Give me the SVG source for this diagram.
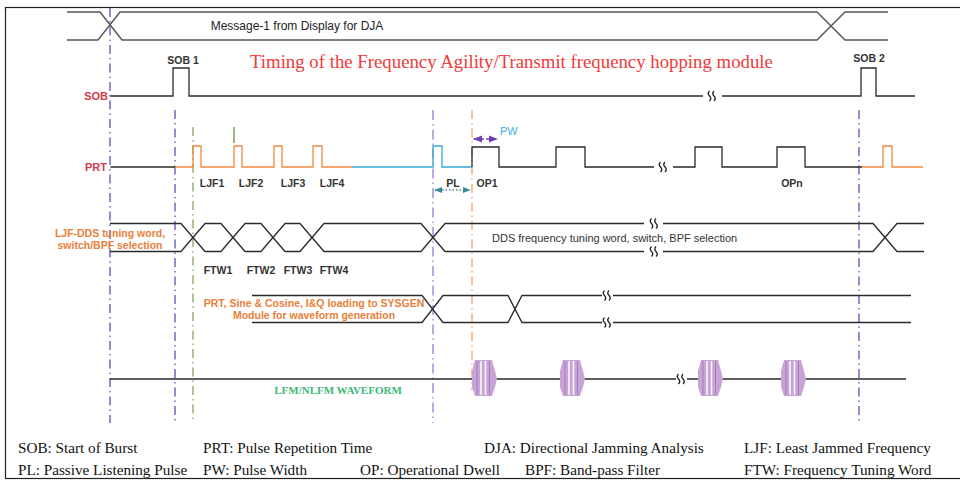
<svg xmlns="http://www.w3.org/2000/svg" width="960" height="480" viewBox="0 0 960 480">
<style>
.sig{fill:none;stroke:#2a2a2a;stroke-width:1.3}
.msg{fill:none;stroke:#555;stroke-width:1.4}
.or{fill:none;stroke:#f08a3c;stroke-width:1.3}
.bl{fill:none;stroke:#3aa6d8;stroke-width:1.3}
.vp{fill:none;stroke:#5a3cae;stroke-width:1.2;stroke-dasharray:9 4 1.5 4}
.vlp{fill:none;stroke:#a590dc;stroke-width:1.5;stroke-dasharray:10 4 1.5 4}
.vg{fill:none;stroke:#7c9c50;stroke-width:1.2;stroke-dasharray:9 4 1.5 4}
.vo{fill:none;stroke:#f29a5c;stroke-width:1.2;stroke-dasharray:9 4 1.5 4}
.lab{font-family:"Liberation Sans",Arial,sans-serif;font-size:10.5px;font-weight:bold;fill:#333;text-anchor:middle}
.sig-name{font-family:"Liberation Sans",Arial,sans-serif;font-size:11px;font-weight:bold;fill:#d23a4a;text-anchor:end}
.orl{font-family:"Liberation Sans",Arial,sans-serif;font-size:10.5px;font-weight:bold;fill:#e8803a;text-anchor:middle}
.leg{font-family:"Liberation Serif","Times New Roman",serif;font-size:15.2px;fill:#111}
.brk{fill:none;stroke:#222;stroke-width:1.3}
</style>
<defs>
<g id="brk"><path class="brk" d="M-2.5,-5 q-2.5,2.5 0,5 q2.5,2.5 0,5 M2,-5 q-2.5,2.5 0,5 q2.5,2.5 0,5"/></g>
<g id="blob">
<path d="M-9,-19 L8,-19 L11,-8 L13,0 L11,8 L8,17 L-9,17 L-12,8 L-12,-8 Z" fill="#c7a3d6"/>
<path d="M-7,-18V16 M5.5,-18V16" stroke="#a57cc0" stroke-width="1"/>
<path d="M-3,-18V16 M1.5,-18V16" stroke="#fff" stroke-width="1.6" opacity="0.9"/>
</g>
<marker id="ap" viewBox="0 0 10 10" refX="9" refY="5" markerWidth="7" markerHeight="7" orient="auto-start-reverse"><path d="M0,1 L10,5 L0,9 Z" fill="#7040b0"/></marker>
<marker id="at" viewBox="0 0 10 10" refX="9" refY="5" markerWidth="6" markerHeight="6" orient="auto-start-reverse"><path d="M0,1 L10,5 L0,9 Z" fill="#3a8a9a"/></marker>
</defs>

<rect x="5.5" y="7.5" width="960" height="471" fill="none" stroke="#222" stroke-width="1.2"/>

<g id="markers">
<line x1="110" y1="8" x2="110" y2="423" class="vp"/>
<line x1="175" y1="110" x2="175" y2="423" class="vp"/>
<line x1="193" y1="127" x2="193" y2="423" class="vg"/>
<line x1="234" y1="127" x2="234" y2="143" stroke="#5a8a30" stroke-width="1.2"/>
<line x1="433" y1="110" x2="433" y2="423" class="vlp"/>
<line x1="472" y1="110" x2="472" y2="390" class="vo"/>
<line x1="859" y1="110" x2="859" y2="423" class="vp"/>
</g>

<g id="message">
<path class="msg" d="M67,12 H100 L122,40 H817 L845,12 H888"/>
<path class="msg" d="M67,40 H98 L120,12 H817 L845,40 H888"/>
<text x="297" y="30" font-family="Liberation Sans, Arial, sans-serif" font-size="12" fill="#222" text-anchor="middle">Message-1 from Display for DJA</text>
</g>

<text id="title" x="250" y="68" font-family="Liberation Serif, Times New Roman, serif" font-size="18.8" fill="#f03a3a">Timing of the Frequency Agility/Transmit frequency hopping module</text>

<g id="sob">
<text class="sig-name" x="108" y="100">SOB</text>
<path class="sig" d="M110.5,96 H173 V68 H189 V96 H703"/>
<path class="sig" d="M722,96 H861 V68 H876 V96 H915"/>
<use href="#brk" x="712" y="96"/>
<text class="lab" x="183" y="64" fill="#111">SOB 1</text>
<text class="lab" x="869" y="62" fill="#111">SOB 2</text>
</g>

<g id="prt">
<text class="sig-name" x="107" y="171">PRT</text>
<path class="sig" d="M110.5,167 H175"/>
<path class="or" d="M175,167 H193 V146 H201 V167 H234 V146 H242 V167 H274 V146 H282 V167 H313 V146 H322 V167 H352"/>
<path class="bl" d="M352,167 H433 V146 H442 V167 H472"/>
<path class="sig" d="M472,167 V147 H499 V167 H556 V147 H585 V167 H654"/>
<use href="#brk" x="663" y="167"/>
<path class="sig" d="M673,167 H695 V147 H722 V167 H777 V147 H805 V167 H862"/>
<path class="or" d="M862,167 H883 V146 H892 V167 H923"/>
<line x1="474" y1="139" x2="497" y2="139" stroke="#7040b0" stroke-width="1.3" stroke-dasharray="4 2" marker-start="url(#ap)" marker-end="url(#ap)"/>
<text x="500" y="135" font-family="Liberation Sans, Arial, sans-serif" font-size="11" fill="#3aaee0">PW</text>
<line x1="435" y1="190" x2="470" y2="190" stroke="#3a8a9a" stroke-width="1.3" stroke-dasharray="1.5 2" marker-start="url(#at)" marker-end="url(#at)"/>
<text class="lab" x="212" y="187">LJF1</text>
<text class="lab" x="251" y="187">LJF2</text>
<text class="lab" x="293" y="187">LJF3</text>
<text class="lab" x="332" y="187">LJF4</text>
<text class="lab" x="453" y="187">PL</text>
<text class="lab" x="487" y="187">OP1</text>
<text class="lab" x="792" y="187">OPn</text>
</g>

<g id="dds">
<path class="sig" d="M110,223.5 H181 L205,251.5 H221 L245,223.5 H261 L285,251.5 H300 L324,223.5 H421 L445,251.5 H644 M663,251.5 H873 L897,223.5 H924"/>
<path class="sig" d="M110,251.5 H181 L205,223.5 H221 L245,251.5 H261 L285,223.5 H300 L324,251.5 H421 L445,223.5 H644 M663,223.5 H873 L897,251.5 H924"/>
<use href="#brk" x="654" y="223.5"/>
<use href="#brk" x="654" y="251.5"/>
<text class="orl" x="110" y="237">LJF-DDS tuning word,</text>
<text class="orl" x="110" y="249">switch/BPF selection</text>
<text x="492" y="242" font-family="Liberation Sans, Arial, sans-serif" font-size="11" fill="#333">DDS frequency tuning word, switch, BPF selection</text>
<text class="lab" x="218" y="274" fill="#111">FTW1</text>
<text class="lab" x="261" y="274" fill="#111">FTW2</text>
<text class="lab" x="298" y="274" fill="#111">FTW3</text>
<text class="lab" x="334" y="274" fill="#111">FTW4</text>
</g>

<g id="sysgen">
<path class="sig" d="M252,295.5 H422 L443,322.5 H508 L522,295.5 H602 M613,295.5 H911"/>
<path class="sig" d="M252,322.5 H422 L443,295.5 H508 L522,322.5 H602 M613,322.5 H911"/>
<use href="#brk" x="607" y="295.5"/>
<use href="#brk" x="607" y="322.5"/>
<text class="orl" x="314" y="307" font-size="11">PRT, Sine &amp; Cosine, I&amp;Q loading to SYSGEN</text>
<text class="orl" x="314" y="319" font-size="10.8">Module for waveform generation</text>
</g>

<g id="waveform">
<path class="sig" d="M110,379 H676 M687,379 H906"/>
<use href="#brk" x="681" y="379"/>
<use href="#blob" x="484" y="379"/>
<use href="#blob" x="572" y="379"/>
<use href="#blob" x="710" y="379"/>
<use href="#blob" x="793" y="379"/>
<text x="338" y="394" font-family="Liberation Serif, Times New Roman, serif" font-size="11" font-weight="bold" fill="#3cb878" text-anchor="middle">LFM/NLFM WAVEFORM</text>
</g>

<g id="legend" class="leg">
<text x="18" y="453">SOB: Start of Burst</text>
<text x="203" y="453">PRT: Pulse Repetition Time</text>
<text x="484" y="453">DJA: Directional Jamming Analysis</text>
<text x="744" y="453">LJF: Least Jammed Frequency</text>
<text x="18" y="475">PL: Passive Listening Pulse</text>
<text x="203" y="475">PW: Pulse Width</text>
<text x="360" y="475">OP: Operational Dwell</text>
<text x="525" y="475">BPF: Band-pass Filter</text>
<text x="744" y="475">FTW: Frequency Tuning Word</text>
</g>
</svg>
